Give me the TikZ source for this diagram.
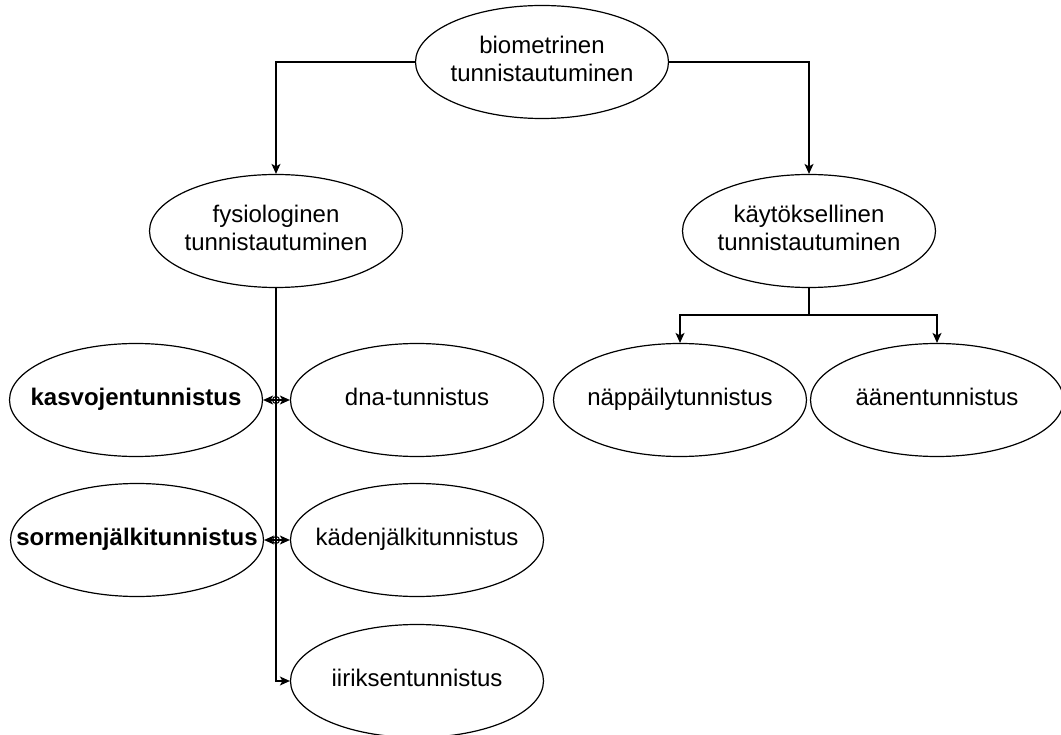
\documentclass[tikz,border=0pt]{standalone}
\usepackage{fontspec}
\setmainfont{Liberation Sans}
\usetikzlibrary{shapes.geometric,arrows.meta}
\newcommand\elltext[1]{\makebox[0pt]{\begin{tabular}{@{}c@{}}#1\end{tabular}}}
\begin{document}
\begin{tikzpicture}[x=1pt,y=-1pt,
  el/.style={draw, ellipse, line width=1.2pt, minimum width=253pt, minimum height=113pt, inner sep=0pt, font=\fontsize{24}{28}\selectfont},
  conn/.style={draw, line width=1.2pt, -{Stealth[length=10pt,width=9pt,inset=2.5pt]}},
  plain/.style={draw, line width=1.2pt}]
\useasboundingbox (0,0) rectangle (1061,735);
\node[el] (bio) at (542,62) {\elltext{biometrinen\\tunnistautuminen}};
\node[el] (fys) at (276,231) {\elltext{fysiologinen\\tunnistautuminen}};
\node[el] (kay) at (809,231) {\elltext{käytöksellinen\\tunnistautuminen}};
\node[el] (kas) at (136,400) {\elltext{\bfseries kasvojentunnistus}};
\node[el] (dna) at (417,400) {\elltext{dna-tunnistus}};
\node[el] (sor) at (137,540) {\elltext{\bfseries sormenjälkitunnistus}};
\node[el] (kad) at (417,540) {\elltext{kädenjälkitunnistus}};
\node[el] (iir) at (417,681) {\elltext{iiriksentunnistus}};
\node[el] (nap) at (680,400) {\elltext{näppäilytunnistus}};
\node[el] (aan) at (937,400) {\elltext{äänentunnistus}};
\coordinate (j1) at (276,400);
\coordinate (j2) at (276,540);
\coordinate (kj) at (809,315);
\draw[conn] (bio.west) -| (fys.north);
\draw[conn] (bio.east) -| (kay.north);
\draw[plain] (kay.south) -- (kj);
\draw[conn] (kj) -| (nap.north);
\draw[conn] (kj) -| (aan.north);
\draw[conn] (fys.south) |- (iir.west);
\draw[conn] (j1) -- (kas.east);
\draw[conn] (j1) -- (dna.west);
\draw[conn] (j2) -- (sor.east);
\draw[conn] (j2) -- (kad.west);
\draw[line width=1pt] (j1) circle (3.5pt);
\draw[line width=1pt] (j2) circle (3.5pt);
\end{tikzpicture}
\end{document}
